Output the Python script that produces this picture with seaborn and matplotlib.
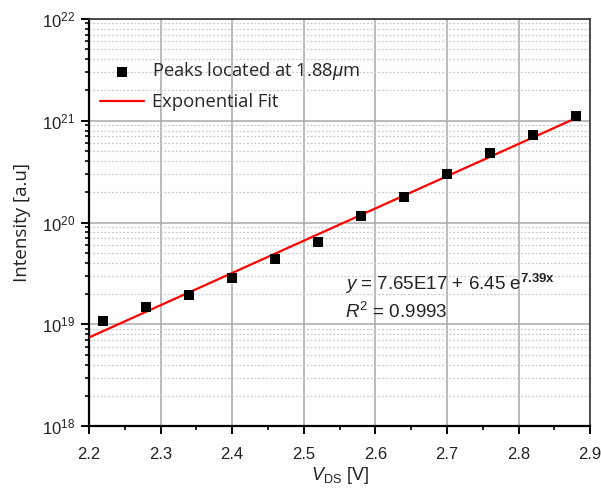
import numpy as np
import pandas as pd
import seaborn as sns
import matplotlib
matplotlib.use("Agg")
import matplotlib.pyplot as plt
from matplotlib.ticker import LogLocator, MultipleLocator, NullFormatter

# Measured peak intensities versus drain-source voltage
vds = [2.22, 2.28, 2.34, 2.40, 2.46, 2.52, 2.58, 2.64, 2.70, 2.76, 2.82, 2.88]
intensity = [1.07e19, 1.47e19, 1.93e19, 2.84e19, 4.37e19, 6.45e19,
             1.15e20, 1.76e20, 3.0e20, 4.8e20, 7.3e20, 1.1e21]

x_ticks = [2.2, 2.3, 2.4, 2.5, 2.6, 2.7, 2.8, 2.9]

sns.set_theme(style="white")
plt.rcParams["font.family"] = ["Liberation Sans", "DejaVu Sans"]
plt.rcParams["mathtext.fontset"] = "custom"
plt.rcParams["mathtext.rm"] = "Liberation Sans"
plt.rcParams["mathtext.it"] = "Liberation Sans:italic"
plt.rcParams["mathtext.bf"] = "Liberation Sans:bold"

df = pd.DataFrame({"vds": vds, "intensity": intensity})

# Exponential fit done as a straight line in log space
k, c = np.polyfit(df["vds"], np.log(df["intensity"]), 1)
xf = np.linspace(2.2, 2.885, 200)
fit = pd.DataFrame({"vds": xf, "intensity": np.exp(c + k * xf)})

fig = plt.figure(figsize=(6.01, 4.95), dpi=100)
ax = fig.add_axes([0.148, 0.139, 0.834, 0.823])

sns.lineplot(data=fit, x="vds", y="intensity", ax=ax, color="#ff0000",
             lw=1.6, label="Exponential Fit", zorder=3)
sns.scatterplot(data=df, x="vds", y="intensity", ax=ax, marker="s",
                color="black", s=52, edgecolor="black", linewidth=0,
                label=r"Peaks located at 1.88$\mu$m", zorder=4)

ax.set_yscale("log")
ax.set_xlim(2.2, 2.9)
ax.set_ylim(1e18, 1e22)
ax.set_xticks(x_ticks)
ax.set_xticklabels([f"{t:.1f}" for t in x_ticks])
ax.xaxis.set_minor_locator(MultipleLocator(0.05))
ax.yaxis.set_major_locator(LogLocator(base=10, numticks=10))
ax.yaxis.set_minor_locator(LogLocator(base=10, subs=np.arange(2, 10), numticks=50))
ax.yaxis.set_minor_formatter(NullFormatter())

ax.grid(True, which="major", axis="both", color="#a8a8a8", lw=1.1, ls="-", zorder=0)
ax.grid(True, which="minor", axis="y", color="#c8c8c8", lw=0.9, ls=(0, (1.5, 1.5)), zorder=0)
ax.set_axisbelow(True)

for side in ["left", "bottom"]:
    ax.spines[side].set_color("black")
    ax.spines[side].set_linewidth(1.6)
for side in ["top", "right"]:
    ax.spines[side].set_visible(True)
    ax.spines[side].set_color("#333333")
    ax.spines[side].set_linewidth(1.2)

ax.tick_params(axis="both", which="major", direction="out", length=6, width=1.4,
               color="black", labelsize=12, labelcolor="#222222",
               bottom=True, left=True, top=False, right=False)
ax.tick_params(axis="x", which="major", pad=9)
ax.tick_params(axis="y", which="major", pad=4)
ax.tick_params(axis="both", which="minor", direction="out", length=3, width=1.2,
               color="black", bottom=True, left=True, top=False, right=False)

ax.set_xlabel(r"$V$$_{\mathregular{DS}}$ [V]", fontsize=13, color="#222222", labelpad=2)
ax.set_ylabel("Intensity [a.u]", fontsize=13.5, color="#222222", labelpad=8,
              family=["Open Sans", "DejaVu Sans"])

handles, labels = ax.get_legend_handles_labels()
order = [1, 0]
leg = ax.legend([handles[i] for i in order], [labels[i] for i in order],
                loc="upper left", bbox_to_anchor=(0.0, 0.925), frameon=False,
                handlelength=2.4, handletextpad=0.45,
                labelspacing=0.6, borderaxespad=0.2,
                prop={"family": ["Open Sans", "DejaVu Sans"], "size": 13.2})

ax.text(0.51, 0.334, r"$y$ = 7.65E17 + 6.45 e$^{\mathbf{7.39x}}$",
        transform=ax.transAxes, fontsize=13.5, color="#222222", va="baseline")
ax.text(0.51, 0.265, r"$R^{2}$ = 0.9993",
        transform=ax.transAxes, fontsize=13.5, color="#222222", va="baseline")

fig.savefig("out.png", dpi=100, facecolor="white")
